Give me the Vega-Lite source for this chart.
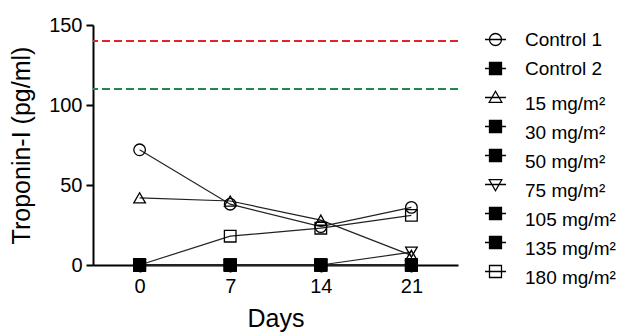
{
  "$schema": "https://vega.github.io/schema/vega-lite/v6.json",
  "width": 365,
  "height": 240,
  "autosize": "none",
  "padding": {"left": 93, "top": 25, "right": 160, "bottom": 68},
  "background": "white",
  "config": {
    "font": "Liberation Sans",
    "view": {"stroke": null},
    "axis": {
      "domainColor": "black", "domainWidth": 2, "tickColor": "black", "tickWidth": 2, "tickSize": 7,
      "labelColor": "black", "titleColor": "black", "labelFontSize": 20, "titleFontSize": 25,
      "titleFontWeight": "normal", "grid": false, "labelPadding": 4
    },
    "legend": {
      "labelFontSize": 19, "labelColor": "black", "symbolStrokeColor": "black", "symbolStrokeWidth": 1.3,
      "symbolSize": 144, "title": null
    }
  },
  "datasets": {
    "pts": [
      {"series": "Control 1", "day": 0, "value": 72},
      {"series": "Control 1", "day": 7, "value": 38},
      {"series": "Control 1", "day": 14, "value": 24},
      {"series": "Control 1", "day": 21, "value": 36},
      {"series": "Control 2", "day": 0, "value": 0},
      {"series": "Control 2", "day": 7, "value": 0},
      {"series": "Control 2", "day": 14, "value": 0},
      {"series": "Control 2", "day": 21, "value": 0},
      {"series": "15 mg/m²", "day": 0, "value": 42},
      {"series": "15 mg/m²", "day": 7, "value": 40},
      {"series": "15 mg/m²", "day": 14, "value": 28},
      {"series": "15 mg/m²", "day": 21, "value": 6},
      {"series": "30 mg/m²", "day": 0, "value": 0},
      {"series": "30 mg/m²", "day": 7, "value": 0},
      {"series": "30 mg/m²", "day": 14, "value": 0},
      {"series": "30 mg/m²", "day": 21, "value": 0},
      {"series": "50 mg/m²", "day": 0, "value": 0},
      {"series": "50 mg/m²", "day": 7, "value": 0},
      {"series": "50 mg/m²", "day": 14, "value": 0},
      {"series": "50 mg/m²", "day": 21, "value": 0},
      {"series": "75 mg/m²", "day": 0, "value": 0},
      {"series": "75 mg/m²", "day": 7, "value": 0},
      {"series": "75 mg/m²", "day": 14, "value": 0},
      {"series": "75 mg/m²", "day": 21, "value": 8},
      {"series": "105 mg/m²", "day": 0, "value": 0},
      {"series": "105 mg/m²", "day": 7, "value": 0},
      {"series": "105 mg/m²", "day": 14, "value": 0},
      {"series": "105 mg/m²", "day": 21, "value": 0},
      {"series": "135 mg/m²", "day": 0, "value": 0},
      {"series": "135 mg/m²", "day": 7, "value": 0},
      {"series": "135 mg/m²", "day": 14, "value": 0},
      {"series": "135 mg/m²", "day": 21, "value": 0},
      {"series": "180 mg/m²", "day": 0, "value": 0},
      {"series": "180 mg/m²", "day": 7, "value": 18},
      {"series": "180 mg/m²", "day": 14, "value": 23},
      {"series": "180 mg/m²", "day": 21, "value": 31}
    ],
    "refs": [
      {"limit": "upper", "value": 140},
      {"limit": "lower", "value": 110}
    ]
  },
  "layer": [
    {
      "data": {"name": "refs"},
      "mark": {"type": "rule", "strokeDash": [8, 4], "strokeWidth": 2},
      "encoding": {
        "y": {"field": "value", "type": "quantitative", "scale": {"domain": [0, 150], "nice": false},
              "axis": {"values": [0, 50, 100, 150], "title": "Troponin-I (pg/ml)", "titlePadding": 14}},
        "color": {"field": "limit", "type": "nominal", "scale": {"domain": ["upper", "lower"], "range": ["#e3232a", "#1f8a45"]}, "legend": null}
      }
    },
    {
      "data": {"name": "pts"},
      "mark": {"type": "line", "color": "#222222", "strokeWidth": 1.2},
      "encoding": {
        "x": {"field": "day", "type": "quantitative", "scale": {"domain": [-3.6, 24.6], "nice": false, "zero": false},
              "axis": {"values": [0, 7, 14, 21], "title": "Days", "titlePadding": 10}},
        "y": {"field": "value", "type": "quantitative"},
        "detail": {"field": "series", "type": "nominal"}
      }
    },
    {
      "data": {"name": "pts"},
      "mark": {"type": "point", "size": 135, "stroke": "black", "strokeWidth": 1.3, "opacity": 1},
      "encoding": {
        "x": {"field": "day", "type": "quantitative"},
        "y": {"field": "value", "type": "quantitative"},
        "shape": {"field": "series", "type": "nominal",
          "scale": {"domain": ["Control 1", "Control 2", "15 mg/m²", "30 mg/m²", "50 mg/m²", "75 mg/m²", "105 mg/m²", "135 mg/m²", "180 mg/m²"],
                    "range": ["circle", "square", "triangle-up", "square", "square", "triangle-down", "square", "square", "square"]},
          "legend": null},
        "fill": {"field": "series", "type": "nominal",
          "scale": {"domain": ["Control 1", "Control 2", "15 mg/m²", "30 mg/m²", "50 mg/m²", "75 mg/m²", "105 mg/m²", "135 mg/m²", "180 mg/m²"],
                    "range": ["transparent", "black", "transparent", "black", "black", "transparent", "black", "black", "transparent"]},
          "legend": null}
      }
    },
    {
      "data": {"name": "pts"},
      "transform": [{"filter": "false"}],
      "mark": {"type": "point", "stroke": "black", "strokeWidth": 1.3, "opacity": 1},
      "encoding": {
        "x": {"field": "day", "type": "quantitative"},
        "y": {"field": "value", "type": "quantitative"},
        "shape": {"field": "series", "type": "nominal",
          "scale": {"domain": ["Control 1", "Control 2", "15 mg/m²", "30 mg/m²", "50 mg/m²", "75 mg/m²", "105 mg/m²", "135 mg/m²", "180 mg/m²"],
                    "range": [
                      "M-1.75,0H1.75M1,0A1,1 0 1,1 -1,0A1,1 0 1,1 1,0ZM0,-2.7L0,-2.7M0,2.7L0,2.7",
                      "M-1.75,0H1.75M-1,-1H1V1H-1ZM0,-2.7L0,-2.7M0,2.7L0,2.7",
                      "M-1.75,0H1.75M0,-1.05L1.05,0.8L-1.05,0.8ZM0,-2.7L0,-2.7M0,2.7L0,2.7",
                      "M-1.75,0H1.75M-1,-1H1V1H-1ZM0,-2.7L0,-2.7M0,2.7L0,2.7",
                      "M-1.75,0H1.75M-1,-1H1V1H-1ZM0,-2.7L0,-2.7M0,2.7L0,2.7",
                      "M-1.75,0H1.75M0,1.05L1.05,-0.8L-1.05,-0.8ZM0,-2.7L0,-2.7M0,2.7L0,2.7",
                      "M-1.75,0H1.75M-1,-1H1V1H-1ZM0,-2.7L0,-2.7M0,2.7L0,2.7",
                      "M-1.75,0H1.75M-1,-1H1V1H-1ZM0,-2.7L0,-2.7M0,2.7L0,2.7",
                      "M-1.75,0H1.75M-1,-1H1V1H-1ZM0,-2.7L0,-2.7M0,2.7L0,2.7"
                    ]},
          "legend": {
            "orient": "none", "legendX": 393, "legendY": 5, "rowPadding": -16, "labelOffset": 20,
            "encoding": {
              "symbols": {"opacity": {"value": 1}, "stroke": {"value": "black"}, "strokeWidth": {"value": 1.3}},
              "labels": {"dy": {"value": {"expr": "indexof(datum.label, 'mg') >= 0 ? 6 : 0"}}}
            }
          }},
        "fill": {"field": "series", "type": "nominal",
          "scale": {"domain": ["Control 1", "Control 2", "15 mg/m²", "30 mg/m²", "50 mg/m²", "75 mg/m²", "105 mg/m²", "135 mg/m²", "180 mg/m²"],
                    "range": ["transparent", "black", "transparent", "black", "black", "transparent", "black", "black", "transparent"]},
          "legend": {
            "orient": "none", "legendX": 393, "legendY": 5, "rowPadding": -16, "labelOffset": 20,
            "encoding": {
              "symbols": {"opacity": {"value": 1}, "stroke": {"value": "black"}, "strokeWidth": {"value": 1.3}},
              "labels": {"dy": {"value": {"expr": "indexof(datum.label, 'mg') >= 0 ? 6 : 0"}}}
            }
          }}
      }
    }
  ],
  "resolve": {"scale": {"color": "independent", "shape": "independent", "fill": "independent"}}
}
